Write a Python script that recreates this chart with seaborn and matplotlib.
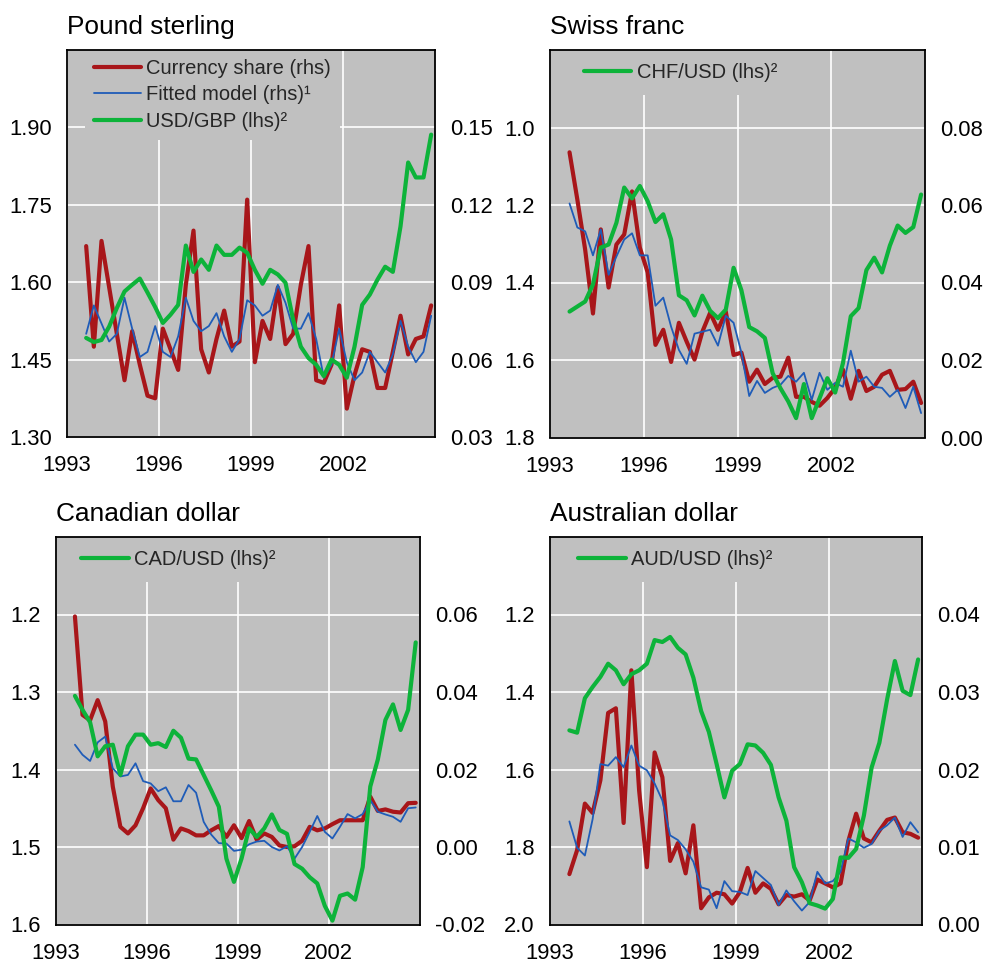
import numpy as np
import pandas as pd
import matplotlib
matplotlib.use("Agg")
import matplotlib.pyplot as plt
import seaborn as sns

# ---------------- data ----------------
quarters = pd.period_range("1993Q3", "2004Q4", freq="Q")
t = np.asarray(quarters.year + (quarters.quarter - 1) / 4 + 0.125, dtype=float)

year_ticks = [1993, 1996, 1999, 2002]

# Pound sterling
gbp_share = [0.104, 0.065, 0.106, 0.088, 0.070, 0.052, 0.071, 0.058, 0.046, 0.045,
             0.072, 0.064, 0.056, 0.089, 0.110, 0.064, 0.055, 0.068, 0.079, 0.065,
             0.067, 0.122, 0.059, 0.075, 0.068, 0.088, 0.066, 0.070, 0.089, 0.104,
             0.052, 0.051, 0.058, 0.081, 0.041, 0.054, 0.064, 0.063, 0.049, 0.049,
             0.063, 0.077, 0.062, 0.068, 0.069, 0.081]
gbp_fit = [0.070, 0.081, 0.074, 0.067, 0.070, 0.084, 0.072, 0.061, 0.063, 0.073,
           0.063, 0.061, 0.069, 0.084, 0.075, 0.071, 0.073, 0.078, 0.069, 0.063,
           0.068, 0.083, 0.081, 0.077, 0.079, 0.089, 0.082, 0.072, 0.072, 0.078,
           0.068, 0.053, 0.058, 0.072, 0.059, 0.052, 0.055, 0.063, 0.059, 0.055,
           0.062, 0.075, 0.065, 0.059, 0.063, 0.077]
gbp_fx = [1.492, 1.484, 1.488, 1.514, 1.550, 1.582, 1.595, 1.607, 1.580, 1.552,
          1.521, 1.537, 1.556, 1.671, 1.620, 1.644, 1.624, 1.671, 1.653, 1.653,
          1.667, 1.657, 1.624, 1.597, 1.624, 1.615, 1.599, 1.527, 1.475, 1.453,
          1.440, 1.418, 1.450, 1.440, 1.415, 1.475, 1.556, 1.576, 1.605, 1.630,
          1.620, 1.708, 1.832, 1.803, 1.803, 1.886]

# Swiss franc
chf_share = [0.0736, 0.0614, 0.0485, 0.0320, 0.0537, 0.0387, 0.0498, 0.0524, 0.0635, 0.0490,
             0.0426, 0.0239, 0.0278, 0.0195, 0.0296, 0.0247, 0.0201, 0.0273, 0.0322, 0.0278,
             0.0325, 0.0213, 0.0219, 0.0144, 0.0175, 0.0138, 0.0154, 0.0157, 0.0206, 0.0105,
             0.0105, 0.0092, 0.0082, 0.0102, 0.0128, 0.0175, 0.0100, 0.0172, 0.0120, 0.0131,
             0.0162, 0.0172, 0.0123, 0.0125, 0.0144, 0.0089]
chf_fit = [0.0604, 0.0542, 0.0532, 0.0470, 0.0537, 0.0420, 0.0467, 0.0511, 0.0527, 0.0470,
           0.0470, 0.0340, 0.0361, 0.0286, 0.0226, 0.0190, 0.0268, 0.0273, 0.0278, 0.0237,
           0.0314, 0.0296, 0.0219, 0.0107, 0.0146, 0.0115, 0.0128, 0.0136, 0.0159, 0.0144,
           0.0167, 0.0097, 0.0167, 0.0123, 0.0141, 0.0131, 0.0224, 0.0144, 0.0157, 0.0131,
           0.0128, 0.0105, 0.0123, 0.0076, 0.0131, 0.0063]
chf_fx = [1.475, 1.462, 1.449, 1.405, 1.310, 1.302, 1.246, 1.155, 1.183, 1.151,
          1.190, 1.244, 1.224, 1.289, 1.433, 1.446, 1.485, 1.434, 1.473, 1.492,
          1.470, 1.362, 1.420, 1.515, 1.526, 1.543, 1.634, 1.673, 1.707, 1.750,
          1.662, 1.750, 1.699, 1.647, 1.684, 1.608, 1.487, 1.466, 1.368, 1.336,
          1.374, 1.305, 1.253, 1.272, 1.257, 1.173]

# Canadian dollar
cad_share = [0.0595, 0.0341, 0.0327, 0.0379, 0.0324, 0.0156, 0.0052, 0.0035, 0.0056, 0.0100,
             0.0151, 0.0121, 0.0100, 0.0019, 0.0048, 0.0041, 0.0030, 0.0030, 0.0043, 0.0054,
             0.0026, 0.0056, 0.0023, 0.0067, 0.0019, 0.0035, 0.0026, 0.0004, 0.0000, 0.0002,
             0.0016, 0.0052, 0.0043, 0.0048, 0.0059, 0.0069, 0.0069, 0.0069, 0.0069, 0.0130,
             0.0093, 0.0097, 0.0091, 0.0089, 0.0113, 0.0114]
cad_fit = [0.0264, 0.0238, 0.0222, 0.0270, 0.0285, 0.0203, 0.0182, 0.0186, 0.0216, 0.0170,
           0.0164, 0.0144, 0.0154, 0.0118, 0.0118, 0.0160, 0.0140, 0.0065, 0.0032, 0.0010,
           0.0009, -0.0010, -0.0007, 0.0007, 0.0014, 0.0016, 0.0000, -0.0009, 0.0002, -0.0030,
           0.0000, 0.0039, 0.0080, 0.0039, 0.0022, 0.0052, 0.0085, 0.0074, 0.0085, 0.0121,
           0.0091, 0.0084, 0.0078, 0.0065, 0.0100, 0.0102]
cad_fx = [1.305, 1.323, 1.339, 1.383, 1.370, 1.368, 1.407, 1.370, 1.355, 1.355,
          1.368, 1.366, 1.371, 1.350, 1.359, 1.386, 1.387, 1.407, 1.427, 1.448,
          1.515, 1.545, 1.515, 1.476, 1.487, 1.476, 1.458, 1.478, 1.483, 1.522,
          1.528, 1.539, 1.547, 1.576, 1.595, 1.563, 1.560, 1.568, 1.526, 1.422,
          1.387, 1.336, 1.316, 1.349, 1.323, 1.236]

# Australian dollar
aud_share = [0.0065, 0.0096, 0.0156, 0.0144, 0.0186, 0.0273, 0.0279, 0.0131, 0.0328, 0.0173,
             0.0074, 0.0222, 0.0190, 0.0082, 0.0105, 0.0066, 0.0128, 0.0021, 0.0035, 0.0041,
             0.0039, 0.0027, 0.0042, 0.0073, 0.0041, 0.0053, 0.0046, 0.0026, 0.0038, 0.0036,
             0.0039, 0.0031, 0.0058, 0.0053, 0.0048, 0.0053, 0.0108, 0.0143, 0.0111, 0.0106,
             0.0121, 0.0135, 0.0138, 0.0119, 0.0117, 0.0112]
aud_fit = [0.0133, 0.0099, 0.0089, 0.0136, 0.0207, 0.0205, 0.0216, 0.0203, 0.0231, 0.0205,
           0.0199, 0.0182, 0.0160, 0.0115, 0.0109, 0.0097, 0.0081, 0.0048, 0.0045, 0.0021,
           0.0056, 0.0043, 0.0042, 0.0038, 0.0069, 0.0060, 0.0051, 0.0025, 0.0044, 0.0030,
           0.0018, 0.0029, 0.0068, 0.0053, 0.0056, 0.0068, 0.0111, 0.0106, 0.0099, 0.0104,
           0.0121, 0.0128, 0.0138, 0.0113, 0.0132, 0.0119]
aud_fx = [1.499, 1.505, 1.416, 1.387, 1.361, 1.327, 1.344, 1.380, 1.354, 1.344,
          1.327, 1.266, 1.271, 1.258, 1.286, 1.303, 1.363, 1.449, 1.503, 1.586,
          1.672, 1.603, 1.586, 1.535, 1.538, 1.557, 1.588, 1.672, 1.732, 1.852,
          1.891, 1.945, 1.951, 1.959, 1.934, 1.827, 1.828, 1.805, 1.719, 1.595,
          1.531, 1.419, 1.320, 1.397, 1.408, 1.316]

titles = ["Pound sterling", "Swiss franc", "Canadian dollar", "Australian dollar"]
fx_labels = ["USD/GBP (lhs)²", "CHF/USD (lhs)²", "CAD/USD (lhs)²", "AUD/USD (lhs)²"]
share_label = "Currency share (rhs)"
fit_label = "Fitted model (rhs)¹"

gbp_lhs_ticks = [1.30, 1.45, 1.60, 1.75, 1.90]
gbp_rhs_ticks = [0.03, 0.06, 0.09, 0.12, 0.15]
chf_lhs_ticks = [1.0, 1.2, 1.4, 1.6, 1.8]
chf_rhs_ticks = [0.00, 0.02, 0.04, 0.06, 0.08]
cad_lhs_ticks = [1.2, 1.3, 1.4, 1.5, 1.6]
cad_rhs_ticks = [-0.02, 0.00, 0.02, 0.04, 0.06]
aud_lhs_ticks = [1.2, 1.4, 1.6, 1.8, 2.0]
aud_rhs_ticks = [0.00, 0.01, 0.02, 0.03, 0.04]

# ---------------- style ----------------
GRAY = "#C0C0C0"
RED = "#A8161A"
BLUE = "#1F5CB8"
GREEN = "#0DB33A"

sns.set_theme(style="darkgrid", rc={
    "axes.facecolor": GRAY,
    "grid.color": "white",
    "grid.linewidth": 1.1,
    "axes.edgecolor": "black",
    "axes.linewidth": 1.2,
})
plt.rcParams["font.family"] = ["Liberation Sans", "DejaVu Sans"]
plt.rcParams["axes.unicode_minus"] = False

W, H = 984, 965
fig = plt.figure(figsize=(W / 100, H / 100), dpi=100)
fig.patch.set_facecolor("white")


def px_axes(x0, x1, y0, y1):
    return [x0 / W, 1 - y1 / H, (x1 - x0) / W, (y1 - y0) / H]


panels = [
    dict(pos=px_axes(67, 435, 50, 437), share=gbp_share, fit=gbp_fit, fx=gbp_fx,
         lhs_lim=(1.30, 2.05), lhs_ticks=gbp_lhs_ticks, lhs_fmt="{:.2f}",
         rhs_lim=(0.03, 0.18), rhs_ticks=gbp_rhs_ticks, rhs_fmt="{:.2f}",
         full_legend=True, leg_x=0.048, bpad=0.45),
    dict(pos=px_axes(550, 925, 50, 437.5), share=chf_share, fit=chf_fit, fx=chf_fx,
         lhs_lim=(1.8, 0.8), lhs_ticks=chf_lhs_ticks, lhs_fmt="{:.1f}",
         rhs_lim=(0.0, 0.10), rhs_ticks=chf_rhs_ticks, rhs_fmt="{:.2f}",
         full_legend=False, leg_x=0.056, bpad=0.65),
    dict(pos=px_axes(56, 419.5, 537, 924.5), share=cad_share, fit=cad_fit, fx=cad_fx,
         lhs_lim=(1.6, 1.1), lhs_ticks=cad_lhs_ticks, lhs_fmt="{:.1f}",
         rhs_lim=(-0.02, 0.08), rhs_ticks=cad_rhs_ticks, rhs_fmt="{:.2f}",
         full_legend=False, leg_x=0.034, bpad=0.65),
    dict(pos=px_axes(550, 922, 537, 924.5), share=aud_share, fit=aud_fit, fx=aud_fx,
         lhs_lim=(2.0, 1.0), lhs_ticks=aud_lhs_ticks, lhs_fmt="{:.1f}",
         rhs_lim=(0.0, 0.05), rhs_ticks=aud_rhs_ticks, rhs_fmt="{:.2f}",
         full_legend=False, leg_x=0.041, bpad=0.65),
]

TICK_FS = 15.8
for p, title, fxl in zip(panels, titles, fx_labels):
    ax = fig.add_axes(p["pos"])          # rhs series (currency share, fitted)
    ax2 = ax.twinx()                      # lhs series (exchange rate)
    ax.yaxis.tick_right()
    ax2.yaxis.tick_left()

    sns.lineplot(x=t, y=p["share"], ax=ax, color=RED, linewidth=3.0, legend=False)
    sns.lineplot(x=t, y=p["fit"], ax=ax, color=BLUE, linewidth=1.3, legend=False)
    sns.lineplot(x=t, y=p["fx"], ax=ax2, color=GREEN, linewidth=3.0, legend=False)

    ax.set_xlim(1993, 2005)
    ax.set_xticks(year_ticks)
    ax.set_xticklabels([str(y) for y in year_ticks])
    ax.set_ylim(*p["rhs_lim"])
    ax.set_yticks(p["rhs_ticks"])
    ax.set_yticklabels([p["rhs_fmt"].format(v) for v in p["rhs_ticks"]])
    ax2.set_ylim(*p["lhs_lim"])
    ax2.set_yticks(p["lhs_ticks"])
    ax2.set_yticklabels([p["lhs_fmt"].format(v) for v in p["lhs_ticks"]])
    ax2.grid(False)
    ax.grid(True, color="white", linewidth=1.2)
    ax.set_xlabel("")
    ax.set_ylabel("")
    ax2.set_ylabel("")

    ax.tick_params(axis="x", length=0, pad=13, labelsize=TICK_FS, colors="black")
    ax.tick_params(axis="y", length=0, pad=11, labelsize=TICK_FS, colors="black")
    ax2.tick_params(axis="y", length=0, pad=11, labelsize=TICK_FS, colors="black")

    for s in ax.spines.values():
        s.set_visible(False)
    for s in ax2.spines.values():
        s.set_visible(True)
        s.set_color("black")
        s.set_linewidth(1.3)
        s.set_zorder(10)

    ax.set_title(title, loc="left", fontsize=18.9, pad=11.5, color="black")

    if p["full_legend"]:
        handles = [ax.lines[0], ax.lines[1], ax2.lines[0]]
        labels = [share_label, fit_label, fxl]
    else:
        handles = [ax2.lines[0]]
        labels = [fxl]
    leg = ax2.legend(handles, labels, loc="upper left", bbox_to_anchor=(p["leg_x"], 1.0),
                     borderaxespad=0, borderpad=p["bpad"], fontsize=14.5,
                     handlelength=2.35, handletextpad=0.27, labelspacing=0.36,
                     frameon=True, fancybox=False)
    leg.get_frame().set_facecolor(GRAY)
    leg.get_frame().set_edgecolor(GRAY)
    leg.get_frame().set_alpha(1)
    leg.get_frame().set_linewidth(0)
    leg.set_zorder(5)

fig.savefig("out.png", dpi=100, facecolor="white")
